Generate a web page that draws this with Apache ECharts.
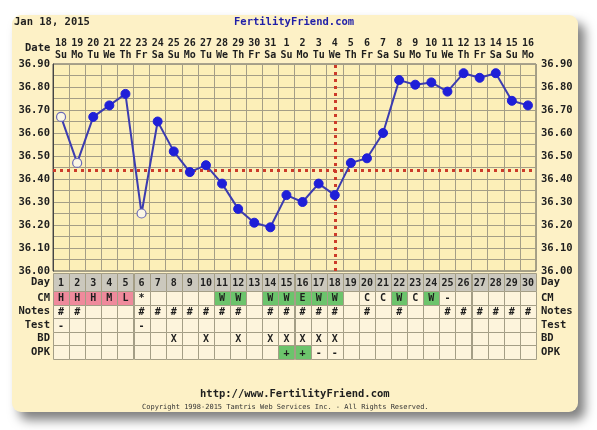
<!DOCTYPE html>
<html>
<head>
<meta charset="utf-8">
<script src="https://cdn.jsdelivr.net/npm/echarts@6/dist/echarts.min.js"></script>
<style>
html,body{margin:0;padding:0;background:#fff;width:597px;height:430px;overflow:hidden;}
#card{position:absolute;left:12px;top:15px;width:566px;height:397px;border-radius:9px;background:#fdf1c6;box-shadow:7px 8px 11px rgba(0,0,0,0.5);}
#chart{position:absolute;left:0;top:0;width:597px;height:430px;}
</style>
</head>
<body>
<div id="card"></div>
<div id="chart"></div>
<script>
// ---- data ----
const dates = ['18','19','20','21','22','23','24','25','26','27','28','29','30','31','1','2','3','4','5','6','7','8','9','10','11','12','13','14','15','16'];
const weekdays = ['Su','Mo','Tu','We','Th','Fr','Sa','Su','Mo','Tu','We','Th','Fr','Sa','Su','Mo','Tu','We','Th','Fr','Sa','Su','Mo','Tu','We','Th','Fr','Sa','Su','Mo'];
const cycleDays = ['1','2','3','4','5','6','7','8','9','10','11','12','13','14','15','16','17','18','19','20','21','22','23','24','25','26','27','28','29','30'];
const temps = [36.67,36.47,36.67,36.72,36.77,36.25,36.65,36.52,36.43,36.46,36.38,36.27,36.21,36.19,36.33,36.30,36.38,36.33,36.47,36.49,36.60,36.83,36.81,36.82,36.78,36.86,36.84,36.86,36.74,36.72];
const hollowDays = [1,2,6];
const coverline = 36.44;
const ovulationDay = 18;
const tempMin = 36.00, tempMax = 36.90, tempStep = 0.05;
const rowNames = ['CM','Notes','Test','BD','OPK'];
const cmRow    = ['H','H','H','M','L','*','','','','','W','W','','W','W','E','W','W','','C','C','W','C','W','-','','','','',''];
const notesRow = ['#','#','','','','#','#','#','#','#','#','#','','#','#','#','#','#','','#','','#','','','#','#','#','#','#','#'];
const testRow  = ['-','','','','','-','','','','','','','','','','','','','','','','','','','','','','','',''];
const bdRow    = ['','','','','','','','X','','X','','X','','X','X','X','X','X','','','','','','','','','','','',''];
const opkRow   = ['','','','','','','','','','','','','','','+','+','-','-','','','','','','','','','','','',''];

// ---- build ----
const FONT = 'DejaVu Sans Mono';
const FS = 10.5;
const TXT = '#1e1e1e';
const GRIDC = '#a49e86';
const rowValues = [cmRow, notesRow, testRow, bdRow, opkRow];
const cells = [], cellText = [];
rowValues.forEach((arr, r) => arr.forEach((t, i) => { cells.push([i, r]); cellText.push(t); }));
const dayCells = cycleDays.map((d, i) => [i, 0]);

function cellColor(r, t) {
  if (r === 0 && (t === 'H' || t === 'M' || t === 'L')) return '#ef8a9c';
  if (r === 0 && (t === 'W' || t === 'E')) return '#6cc46c';
  if (r === 4 && t === '+') return '#6cc46c';
  return '#fdf4dc';
}
function makeRender(textOf, colorOf) {
  return function (params, api) {
    const c = api.coord([api.value(0), api.value(1)]);
    const s = api.size([1, 1]);
    const x0 = Math.round(c[0] - s[0] / 2) + 0.5, y0 = Math.round(c[1] - s[1] / 2) + 0.5;
    const w = Math.round(s[0]), h = Math.round(s[1]);
    return {
      type: 'group',
      children: [
        { type: 'rect', shape: { x: x0, y: y0, width: w, height: h },
          style: { fill: colorOf(params.dataIndex), stroke: GRIDC, lineWidth: 1 } },
        { type: 'text', style: { text: textOf(params.dataIndex), x: c[0], y: c[1] + 1, align: 'center', verticalAlign: 'middle',
          font: 'bold 10px ' + FONT, fill: TXT } }
      ]
    };
  };
}

const labelStyle = { fontFamily: FONT, fontWeight: 'bold', fontSize: FS, color: TXT };
const chart = echarts.init(document.getElementById('chart'), null, { renderer: 'canvas' });
const gl = 53, gw = 483;
const tempFmt = v => (Math.round(v * 100) % 10 === 0 ? v.toFixed(2) : '');
chart.setOption({
  animation: false,
  backgroundColor: 'transparent',
  grid: [
    { left: gl, top: 64, width: gw, height: 207, show: true, backgroundColor: '#fcefb8', borderColor: '#555', borderWidth: 1 },
    { left: gl, top: 273, width: gw, height: 18 },
    { left: gl, top: 291, width: gw, height: 68 }
  ],
  xAxis: [
    { gridIndex: 0, type: 'category', position: 'top', data: dates.map((d, i) => d + '\n' + weekdays[i]),
      axisLine: { show: false }, axisTick: { show: false },
      axisLabel: Object.assign({ interval: 0, margin: 3, lineHeight: 12 }, labelStyle, { fontSize: 10 }),
      splitLine: { show: true, interval: 0, lineStyle: { color: GRIDC, width: 1 } } },
    { gridIndex: 1, type: 'category', data: cycleDays, show: false },
    { gridIndex: 2, type: 'category', data: cycleDays, show: false }
  ],
  yAxis: [
    { gridIndex: 0, type: 'value', min: tempMin, max: tempMax, interval: tempStep, position: 'left',
      axisLine: { show: true, lineStyle: { color: '#444' } }, axisTick: { show: false },
      axisLabel: Object.assign({ margin: 3, formatter: tempFmt }, labelStyle),
      splitLine: { show: true, lineStyle: { color: GRIDC, width: 1 } } },
    { gridIndex: 0, type: 'value', min: tempMin, max: tempMax, interval: tempStep, position: 'right',
      axisLine: { show: false }, axisTick: { show: false },
      axisLabel: Object.assign({ margin: 5, formatter: tempFmt }, labelStyle),
      splitLine: { show: false } },
    { gridIndex: 1, type: 'category', data: ['Day'], position: 'left', axisLine: { show: false }, axisTick: { show: false },
      axisLabel: Object.assign({ margin: 3, interval: 0 }, labelStyle) },
    { gridIndex: 1, type: 'category', data: ['Day'], position: 'right', axisLine: { show: false }, axisTick: { show: false },
      axisLabel: Object.assign({ margin: 5, interval: 0 }, labelStyle) },
    { gridIndex: 2, type: 'category', data: rowNames, inverse: true, position: 'left', axisLine: { show: false }, axisTick: { show: false },
      axisLabel: Object.assign({ margin: 3, interval: 0 }, labelStyle) },
    { gridIndex: 2, type: 'category', data: rowNames, inverse: true, position: 'right', axisLine: { show: false }, axisTick: { show: false },
      axisLabel: Object.assign({ margin: 5, interval: 0 }, labelStyle) }
  ],
  series: [
    { type: 'line', xAxisIndex: 0, yAxisIndex: 0, z: 5,
      data: temps.map((t, i) => hollowDays.includes(i + 1)
        ? { value: t, itemStyle: { color: '#fbf6e6', borderColor: '#6a6ab8', borderWidth: 1.2 } }
        : { value: t }),
      symbol: 'circle', symbolSize: 9, showSymbol: true,
      itemStyle: { color: '#1f1fd8', borderColor: '#1f1fd8' },
      lineStyle: { color: '#3c3cb0', width: 2 },
      markLine: { silent: true, symbol: 'none', label: { show: false }, z: 3,
        lineStyle: { color: '#cc3b2a', width: 3, type: [3, 4] },
        data: [{ yAxis: coverline }, { xAxis: ovulationDay - 1 }] } },
    { type: 'custom', xAxisIndex: 1, yAxisIndex: 2, data: dayCells,
      renderItem: makeRender(i => cycleDays[i], () => '#cbc8bd') },
    { type: 'custom', xAxisIndex: 2, yAxisIndex: 4, data: cells,
      renderItem: makeRender(i => cellText[i], i => cellColor(cells[i][1], cellText[i])) }
  ],
  graphic: [
    { type: 'text', left: 14, top: 17, style: { text: 'Jan 18, 2015', font: 'bold ' + FS + 'px ' + FONT, fill: TXT } },
    { type: 'text', left: 234, top: 17, style: { text: 'FertilityFriend.com', font: 'bold ' + FS + 'px ' + FONT, fill: '#1f1fa8' } },
    { type: 'text', left: 25, top: 43, style: { text: 'Date', font: 'bold ' + FS + 'px ' + FONT, fill: TXT } },
    { type: 'text', left: 200, top: 389, style: { text: 'http://www.FertilityFriend.com', font: 'bold ' + FS + 'px ' + FONT, fill: TXT } },
    { type: 'text', left: 142, top: 404, style: { text: 'Copyright 1998-2015 Tamtris Web Services Inc. - All Rights Reserved.', font: '7px ' + FONT, fill: '#333' } }
  ]
});
</script>
</body>
</html>
